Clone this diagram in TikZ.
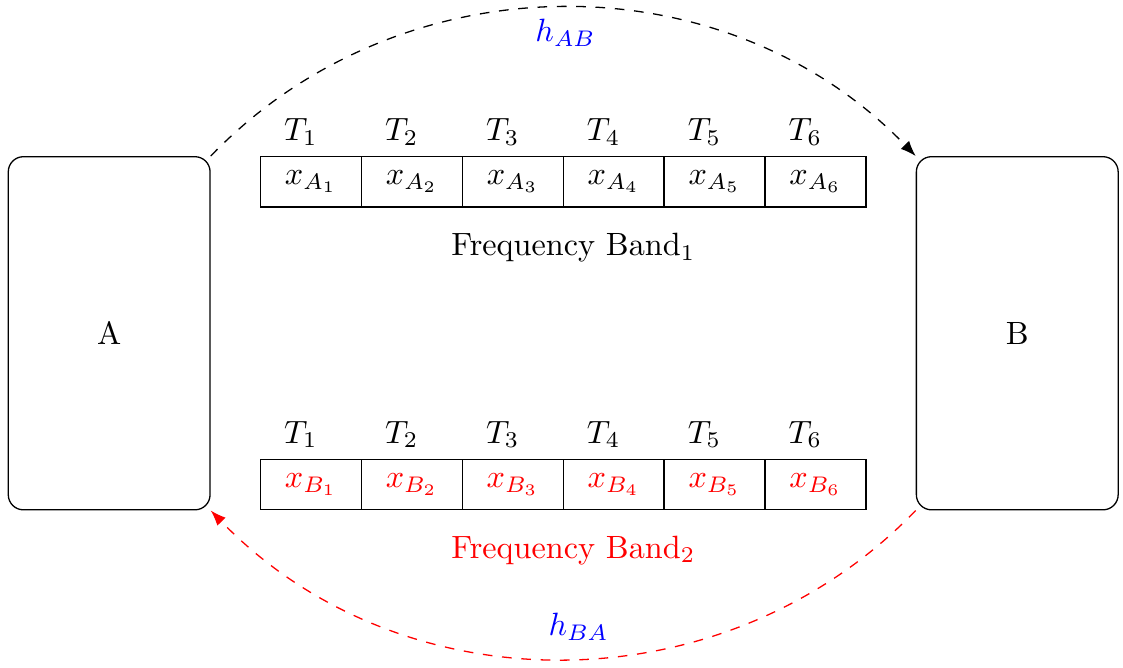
\documentclass[tikz,border=0pt]{standalone}
\usetikzlibrary{positioning, arrows.meta}
\tikzset{
  userbox/.style={
    draw,
    rounded corners=4.7pt,
    minimum width=2.2cm,
    minimum height=3.85cm
  },
  slot/.style={draw, minimum width=1.1cm, minimum height=0.55cm, outer sep=0pt, inner sep=0pt},
  slotred/.style={slot, text=red},
  tlbl/.style={xshift=-1.1mm},
  link/.style={dashed, -{Latex}},
  chan/.style={text=blue}
}

\begin{document}
\begin{tikzpicture}[x=1.1cm, y=1.1cm]
  \useasboundingbox (-0.082,-1.567) rectangle (11.048,5.053);

  \node[userbox] (A) at (1,1.75) {A};
  \node[userbox] (B) at (10,1.75) {B};

  % band 1
  \node[slot] (a1) at (3,3.25) {$x_{A_1}$};
  \node[slot, right=0pt of a1] (a2) {$x_{A_2}$};
  \node[slot, right=0pt of a2] (a3) {$x_{A_3}$};
  \node[slot, right=0pt of a3] (a4) {$x_{A_4}$};
  \node[slot, right=0pt of a4] (a5) {$x_{A_5}$};
  \node[slot, right=0pt of a5] (a6) {$x_{A_6}$};

  \node[tlbl, above=0pt of a1] (ta1) {$T_1$};
  \node[tlbl, above=0pt of a2] (ta2) {$T_2$};
  \node[tlbl, above=0pt of a3] (ta3) {$T_3$};
  \node[tlbl, above=0pt of a4] (ta4) {$T_4$};
  \node[tlbl, above=0pt of a5] (ta5) {$T_5$};
  \node[tlbl, above=0pt of a6] (ta6) {$T_6$};

  \node (band1) at (5.6,2.6) {Frequency Band$_1$};

  % band 2
  \node[slotred] (b1) at (3,0.25) {$x_{B_1}$};
  \node[slotred, right=0pt of b1] (b2) {$x_{B_2}$};
  \node[slotred, right=0pt of b2] (b3) {$x_{B_3}$};
  \node[slotred, right=0pt of b3] (b4) {$x_{B_4}$};
  \node[slotred, right=0pt of b4] (b5) {$x_{B_5}$};
  \node[slotred, right=0pt of b5] (b6) {$x_{B_6}$};

  \node[tlbl, above=0pt of b1] (tb1) {$T_1$};
  \node[tlbl, above=0pt of b2] (tb2) {$T_2$};
  \node[tlbl, above=0pt of b3] (tb3) {$T_3$};
  \node[tlbl, above=0pt of b4] (tb4) {$T_4$};
  \node[tlbl, above=0pt of b5] (tb5) {$T_5$};
  \node[tlbl, above=0pt of b6] (tb6) {$T_6$};

  \node[text=red] (band2) at (5.6,-0.4) {Frequency Band$_2$};

  % channels
  \draw[link] (A.north east) to[bend left=46] node[below, chan, pos=0.503] {$h_{AB}$} (B.north west);
  \draw[link, red] (B.south west) to[bend left=46] node[above, chan, pos=0.48, yshift=2pt] {$h_{BA}$} (A.south east);

\end{tikzpicture}
\end{document}
